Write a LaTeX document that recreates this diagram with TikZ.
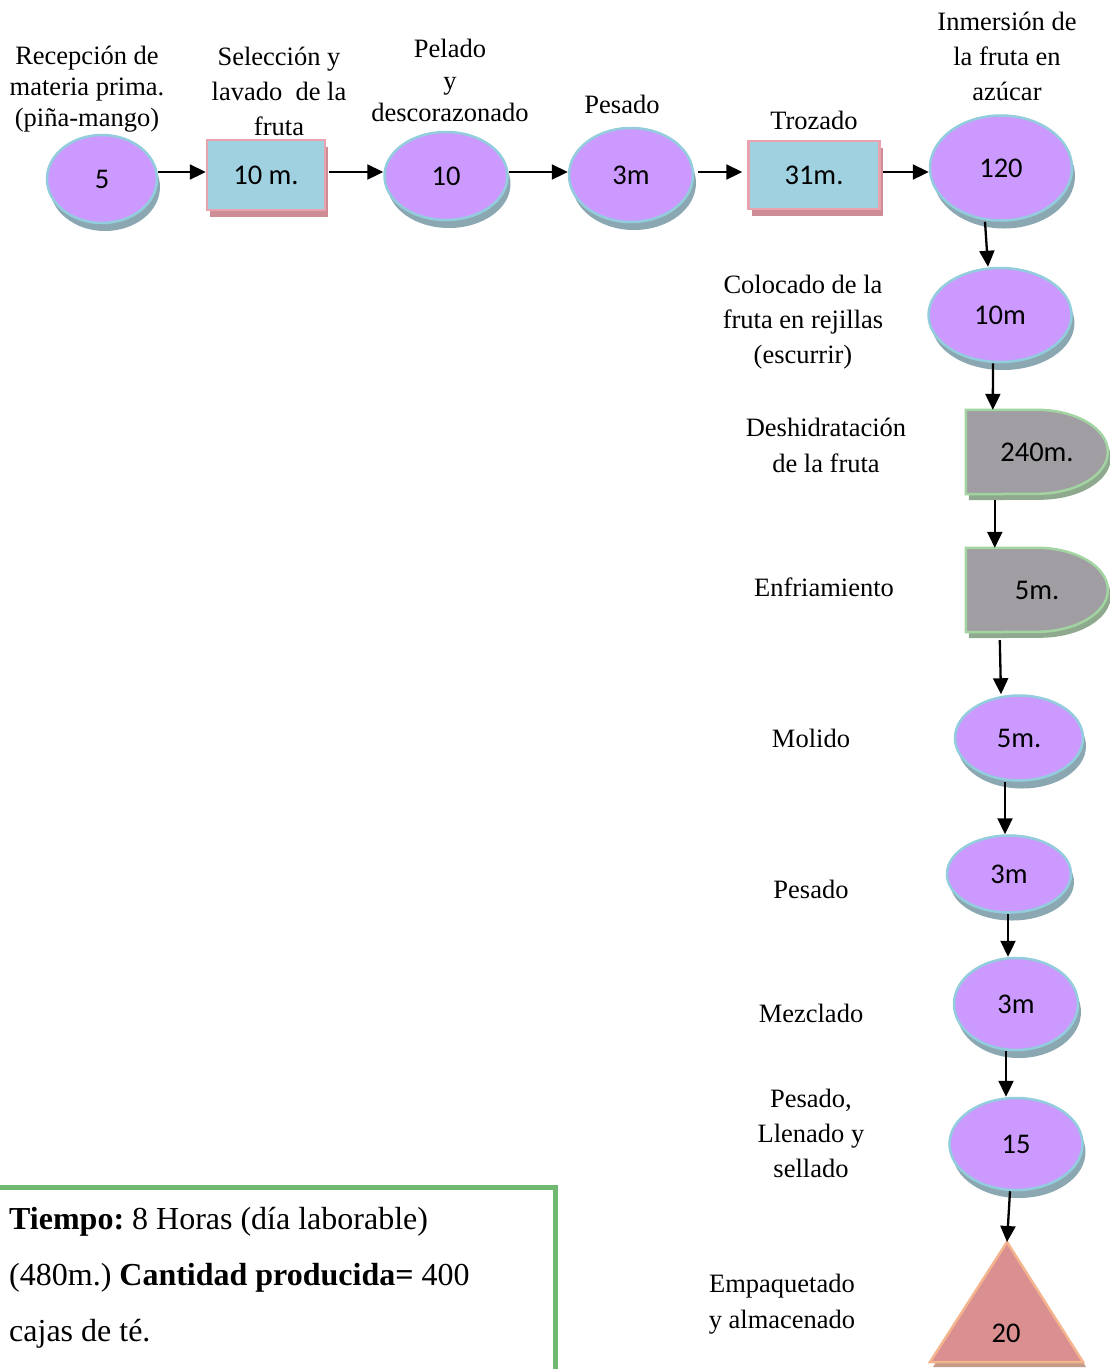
\documentclass[tikz,border=0pt]{standalone}
\usepackage{fontspec}
\setmainfont{Liberation Serif}
\newfontfamily\numfont{Carlito}
\usepackage{xcolor}
\usetikzlibrary{shapes.geometric,shadows,arrows.meta,backgrounds,scopes}
\frenchspacing

\definecolor{lila}{HTML}{CC99FF}
\definecolor{lilaline}{HTML}{93CDDD}
\definecolor{lilashade}{HTML}{8BA8B2}
\definecolor{celeste}{HTML}{A0D1E0}
\definecolor{rosa}{HTML}{E9A3AE}
\definecolor{rosashade}{HTML}{CD8C96}
\definecolor{gris}{HTML}{A09EA3}
\definecolor{verdeline}{HTML}{A2D4A2}
\definecolor{verdeshade}{HTML}{8FA98F}
\definecolor{salmon}{HTML}{DA9090}
\definecolor{durazno}{HTML}{F3B48E}
\definecolor{salmonshade}{HTML}{C49A88}
\definecolor{marco}{HTML}{70B870}

\newcommand\lblfont{\fontsize{26.5}{35}\selectfont}
\newcommand\nmfont{\numfont\fontsize{28.5}{32}\selectfont}

\begin{document}
\begin{tikzpicture}[x=1pt,y=-1pt,
      opn/.style={ellipse,draw=lilaline,fill=lila,line width=2.5pt,inner sep=0pt,font=\nmfont,
                  drop shadow={shadow xshift=3pt,shadow yshift=-8pt,fill=lilashade,opacity=1}},
      insp/.style={rectangle,draw=rosa,fill=celeste,line width=2.5pt,inner sep=0pt,font=\nmfont,
                  drop shadow={shadow xshift=3pt,shadow yshift=-7pt,fill=rosashade,opacity=1}},
      dly/.style={rectangle,minimum width=142pt,minimum height=84pt,inner sep=0pt,font=\nmfont},
      dlyshape/.style={draw=verdeline,fill=gris,line width=2.5pt},
      lbl/.style={align=center,font=\lblfont,inner sep=0pt},
      flow/.style={-{Triangle[length=16pt,width=15pt]},line width=2.3pt},
      info/.style={align=left,inner sep=0pt,font=\fontsize{32}{56}\selectfont}
]
      \useasboundingbox (0,0) rectangle (1110,1369);

      % fila superior
      \node[opn,minimum width=110pt,minimum height=88pt] (n1) at (102,179) {5};
      \node[insp,minimum width=118pt,minimum height=70pt] (n2) at (266,175) {10 m.};
      \node[opn,minimum width=123pt,minimum height=88pt] (n3) at (446,176) {10};
      \node[opn,minimum width=124pt,minimum height=94pt] (n4) at (631,175) {3m};
      \node[insp,minimum width=131pt,minimum height=68pt] (n5) at (814,175) {31m.};
      \node[opn,minimum width=142pt,minimum height=105pt] (n6) at (1001,168) {120};

      % columna derecha
      \node[opn,minimum width=143pt,minimum height=94pt] (n7) at (1000,315) {10m};
      \node[dly] (n8) at (1037,452) {240m.};
      \node[dly] (n9) at (1037,590) {5m.};
      \node[opn,minimum width=128pt,minimum height=85pt] (n10) at (1019,738) {5m.};
      \node[opn,minimum width=124pt,minimum height=77pt] (n11) at (1009,874) {3m};
      \node[opn,minimum width=124pt,minimum height=92pt] (n12) at (1016,1004) {3m};
      \node[opn,minimum width=133pt,minimum height=92pt] (n13) at (1016,1144) {15};
      \node[font=\nmfont,inner sep=0pt] (n14) at (1006,1333) {20};
      \coordinate (n14top) at (1007,1242);

      % formas de demora y almacenaje
      \begin{scope}[on background layer]
          \foreach \d in {n8,n9} {
              \fill[verdeshade] ([shift={(3pt,-6pt)}]\d.north west) -- ++(71,0)
                  arc[x radius=71pt,y radius=42pt,start angle=90,end angle=-90]
                  -- ([shift={(3pt,-6pt)}]\d.south west) -- cycle;
              \draw[dlyshape] (\d.north west) -- ++(71,0)
                  arc[x radius=71pt,y radius=42pt,start angle=90,end angle=-90]
                  -- (\d.south west) -- cycle;
          }
          \fill[salmonshade] ([shift={(3pt,-5pt)}]n14top) -- ++(76,120) -- ++(-153,0) -- cycle;
          \draw[draw=durazno,fill=salmon,line width=2.5pt,line join=miter] (n14top) -- ++(76,120) -- ++(-153,0) -- cycle;
      \end{scope}

      % etiquetas
      \node[lbl,font=\fontsize{26.5}{31}\selectfont] (l1) at (87,89) {Recepción de\\materia prima.\\(piña-mango)};
      \node[lbl] (l2) at (279,91) {Selección y\\lavado\ \ de la\\fruta};
      \node[lbl,font=\fontsize{26.5}{32}\selectfont] (l3) at (450,80) {Pelado\\y\\descorazonado};
      \node[lbl] (l4) at (622,104) {Pesado};
      \node[lbl] (l5) at (814,120) {Trozado};
      \node[lbl] (l6) at (1007,56) {Inmersión de\\la fruta en\\azúcar};
      \node[lbl] (l7) at (803,322) {Colocado de la\\fruta en rejillas\\(escurrir)};
      \node[lbl,font=\fontsize{26.5}{36}\selectfont] (l8) at (826,445) {Deshidratación\\de la fruta};
      \node[lbl] (l9) at (824,587) {Enfriamiento};
      \node[lbl] (l10) at (811,738) {Molido};
      \node[lbl] (l11) at (811,889) {Pesado};
      \node[lbl] (l12) at (811,1013) {Mezclado};
      \node[lbl] (l13) at (811,1133) {Pesado,\\Llenado y\\sellado};
      \node[lbl,font=\fontsize{26.5}{36}\selectfont] (l14) at (782,1304) {Empaquetado\\y almacenado};

      % flechas
      \coordinate (row) at (0,172);
      \draw[flow] (n1.east |- row) -- (n2.west |- row);
      \draw[flow] ([xshift=3pt]n2.east |- row) -- (n3.west |- row);
      \draw[flow] (n3.east |- row) -- (n4.west |- row);
      \draw[flow] ([xshift=4pt]n4.east |- row) -- ([xshift=-5pt]n5.west |- row);
      \draw[flow] ([xshift=2pt]n5.east |- row) -- (n6.west |- row);
      \draw[flow] ([xshift=-16pt]n6.south) -- ([xshift=-12pt]n7.north);
      \draw[flow] ([xshift=-7pt]n7.south) -- ([xshift=27pt]n8.north west);
      \draw[flow] ([xshift=29pt,yshift=-6pt]n8.south west) -- ([xshift=29pt]n9.north west);
      \draw[flow] ([xshift=34pt,yshift=-8pt]n9.south west) -- ([xshift=-18pt]n10.north);
      \draw[flow] ([xshift=-14pt]n10.south) -- ([xshift=-4pt]n11.north);
      \draw[flow] ([xshift=-1pt]n11.south) -- ([xshift=-8pt]n12.north);
      \draw[flow] ([xshift=-10pt]n12.south) -- ([xshift=-10pt]n13.north);
      \draw[flow] ([xshift=-6pt]n13.south) -- (n14top);

      % recuadro de tiempo
      \draw[marco,line width=5pt] (-10,1187) -- (555,1187) -- (555,1380);
      \node[info,anchor=north west] (info) at (9,1207)
          {\textbf{Tiempo:} 8 Horas (día laborable)\\(480m.) \textbf{Cantidad producida=} 400\\cajas de té.};
\end{tikzpicture}
\end{document}
